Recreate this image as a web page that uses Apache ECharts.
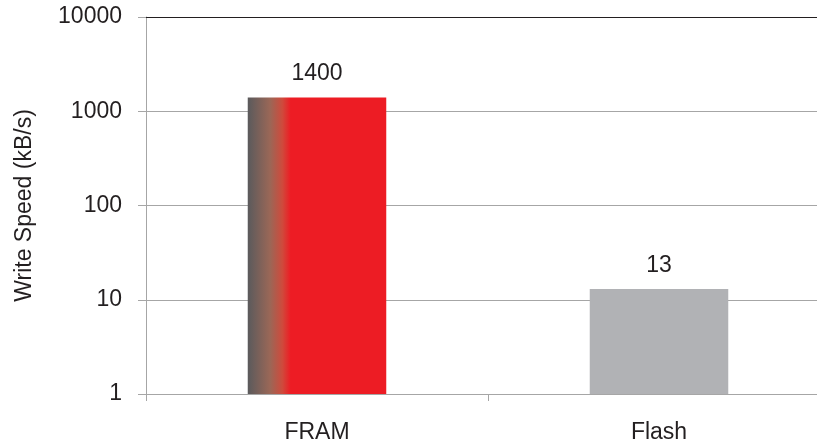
<!DOCTYPE html>
<html><head><meta charset="utf-8">
<script src="https://cdn.jsdelivr.net/npm/echarts@6/dist/echarts.min.js"></script>
<style>html,body{margin:0;padding:0;background:#fff;overflow:hidden;width:817px;height:444px}#c{width:830px;height:444px}</style>
</head><body><div id="c"></div>
<script>
const categories = ['FRAM', 'Flash'];
const writeSpeed = [1400, 13];
const yAxisName = 'Write Speed (kB/s)';

const chart = echarts.init(document.getElementById('c'), null, {renderer: 'canvas'});
const txt = '#231f20';
const font = '"Liberation Sans", Arial, sans-serif';
chart.setOption({
  animation: false,
  grid: {left: 146, right: 0, top: 17, height: 377, containLabel: false},
  xAxis: [{
    type: 'category', data: categories,
    axisLine: {lineStyle: {color: '#a6a6a6', width: 1}},
    axisTick: {show: true, length: 7, lineStyle: {color: '#a6a6a6'}},
    axisLabel: {color: txt, fontSize: 23, fontFamily: font, margin: 27}
  }, {
    type: 'category', data: categories, position: 'top',
    axisLine: {lineStyle: {color: '#231f20', width: 1}},
    axisTick: {show: false}, axisLabel: {show: false}
  }],
  yAxis: {
    type: 'log', logBase: 10, min: 1, max: 10000,
    name: yAxisName, nameLocation: 'middle', nameGap: 110,
    nameTextStyle: {color: txt, fontSize: 23, fontFamily: font},
    axisLine: {show: true, lineStyle: {color: '#a6a6a6'}},
    axisTick: {show: true, length: 8, lineStyle: {color: '#a6a6a6'}},
    axisLabel: {color: txt, fontSize: 23, fontFamily: font, margin: 24, formatter: v => String(v)},
    splitLine: {show: true, lineStyle: {color: '#a6a6a6', width: 1}}
  },
  series: [{
    type: 'bar', barWidth: '40.5%',
    data: writeSpeed.map((v, i) => ({
      value: v,
      itemStyle: i === 0 ? {color: new echarts.graphic.LinearGradient(0, 0, 1, 0, [
        {offset: 0, color: '#5a5a5c'},
        {offset: 0.16, color: '#9a6757'},
        {offset: 0.25, color: '#cf4a3c'},
        {offset: 0.31, color: '#ed1c24'},
        {offset: 1, color: '#ed1c24'}
      ])} : {color: '#b1b2b5'}
    })),
    label: {show: true, position: 'top', distance: 12, color: txt, fontSize: 23, fontFamily: font}
  }]
});
</script></body></html>
